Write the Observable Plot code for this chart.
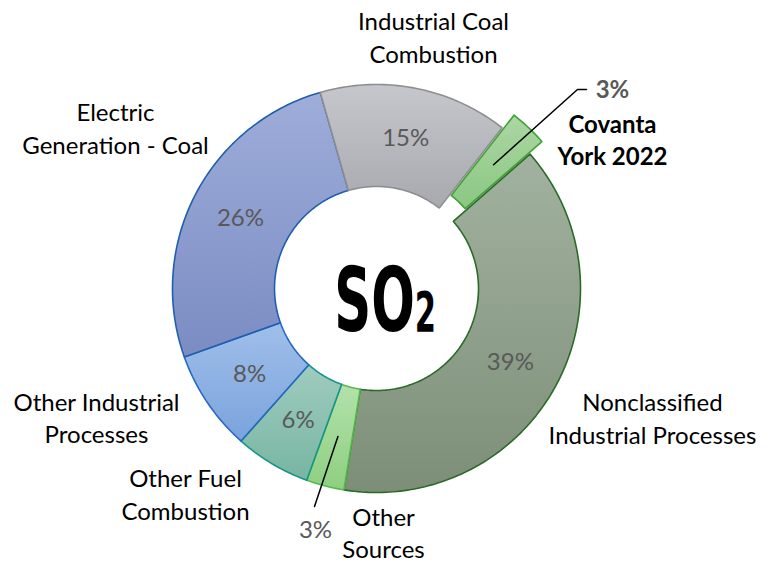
<!DOCTYPE html>
<html>
<head>
<meta charset="utf-8">
<script src="https://cdn.jsdelivr.net/npm/d3@7"></script>
<script src="https://cdn.jsdelivr.net/npm/@observablehq/plot@0.6"></script>
<style>
html, body { margin: 0; padding: 0; background: #fff; }
#chart svg { display: block; }
</style>
</head>
<body>
<div id="chart"></div>
<script>
// ---------- data ----------
const categories = [
  "Covanta York 2022",
  "Nonclassified Industrial Processes",
  "Other Sources",
  "Other Fuel Combustion",
  "Other Industrial Processes",
  "Electric Generation - Coal",
  "Industrial Coal Combustion"
];
const values = [3, 39, 3, 6, 8, 26, 15];
const labelLines = [
  ["Covanta", "York 2022"],
  ["Nonclassified", "Industrial Processes"],
  ["Other", "Sources"],
  ["Other Fuel", "Combustion"],
  ["Other Industrial", "Processes"],
  ["Electric", "Generation - Coal"],
  ["Industrial Coal", "Combustion"]
];

// ---------- layout / style ----------
const W = 773, H = 563, CX = 376, CY = 288, R = 204, INNER = 0.5, START_DEG = 38;
const explode = [0.085, 0, 0, 0, 0, 0, 0];
const gradTop    = ["#abd7a3", "#a2b2a0", "#b3e1ab", "#9fccbe", "#a0bfea", "#9eadd9", "#c6c7cc"];
const gradBottom = ["#8bc782", "#7d8e78", "#8ecf80", "#78b5a3", "#7aa3dc", "#7b8cc3", "#a8a9af"];
const strokes    = ["#42a037", "#2b6a27", "#52b94a", "#13958a", "#2468c2", "#1f5fae", "#8e8e90"];
// label centers in pixels [x, y of first line, y of second line, bold]
const labelPos = [
  [612, 125, 157, true],
  [652, 403, 436, false],
  [383, 518, 550, false],
  [185, 479, 512, false],
  [96, 403, 435, false],
  [115, 113, 146, false],
  [433, 22, 55, false]
];
const outsidePct = { 0: [612, 90, true], 2: [315, 530, false] };
const leaderEnds = { 0: [[577, 89], [586, 89]], 2: [[314, 506]] };

const toX = (px) => (px - CX) / R;
const toY = (py) => (py - CY) / R;
const polar = (r, a) => [r * Math.sin(a), -r * Math.cos(a)];

// ---------- geometry from data ----------
const total = d3.sum(values);
let acc = START_DEG * Math.PI / 180;
const slices = values.map((v, i) => {
  const a0 = acc, a1 = acc + (v / total) * 2 * Math.PI;
  acc = a1;
  const mid = (a0 + a1) / 2;
  const [ox, oy] = polar(explode[i], mid);
  const n = Math.max(6, Math.ceil((a1 - a0) * 180 / Math.PI));
  const pts = [];
  for (let k = 0; k <= n; k++) {
    const a = a0 + (a1 - a0) * k / n;
    const [x, y] = polar(1, a);
    pts.push({ x: x + ox, y: y + oy });
  }
  for (let k = n; k >= 0; k--) {
    const a = a0 + (a1 - a0) * k / n;
    const [x, y] = polar(INNER, a);
    pts.push({ x: x + ox, y: y + oy });
  }
  pts.push(pts[0]);
  const [cx, cy] = polar(0.75, mid);
  return { i, name: categories[i], value: v, pts, cx: cx + ox, cy: cy + oy };
});

const insidePct = slices.filter(s => !(s.i in outsidePct)).map(s => ({ x: s.cx, y: s.cy, t: `${s.value}%` }));
const outPct = Object.entries(outsidePct).map(([i, p]) => ({ x: toX(p[0]), y: toY(p[1]), t: `${values[+i]}%`, bold: p[2] }));
const labelData = [];
labelLines.forEach((lines, i) => {
  const p = labelPos[i];
  lines.forEach((t, j) => labelData.push({ x: toX(p[0]), y: toY(p[1 + j]), t, bold: p[3] }));
});
const leaders = Object.entries(leaderEnds).map(([i, ends]) => {
  const s = slices[+i];
  return [{ x: s.cx, y: s.cy }, ...ends.map(([px, py]) => ({ x: toX(px), y: toY(py) }))];
});

const marks = [];
slices.forEach(s => {
  marks.push(Plot.line(s.pts, {
    x: "x", y: "y", curve: "linear",
    fill: `url(#grad${s.i})`, stroke: strokes[s.i], strokeWidth: 1.6, strokeLinejoin: "miter"
  }));
});
leaders.forEach(l => marks.push(Plot.line(l, { x: "x", y: "y", stroke: "#000", strokeWidth: 1.5, curve: "linear" })));
marks.push(Plot.text(insidePct, { x: "x", y: "y", text: "t", fill: "#595959", fontSize: 24, fontFamily: "Lato" }));
marks.push(Plot.text(outPct.filter(d => d.bold), { x: "x", y: "y", text: "t", fill: "#595959", fontSize: 24, fontWeight: "bold", fontFamily: "Lato" }));
marks.push(Plot.text(outPct.filter(d => !d.bold), { x: "x", y: "y", text: "t", fill: "#595959", fontSize: 24, fontFamily: "Lato" }));
marks.push(Plot.text(labelData.filter(d => !d.bold), { x: "x", y: "y", text: "t", fill: "#000", fontSize: 24, fontFamily: "Lato" }));
marks.push(Plot.text(labelData.filter(d => d.bold), { x: "x", y: "y", text: "t", fill: "#000", fontSize: 24, fontWeight: "bold", fontFamily: "Lato" }));
// center title
const centerText = [{ x: toX(374), y: toY(330), t: "SO" }];
const centerSub = [{ x: toX(425), y: toY(330), t: "2" }];
marks.push(Plot.text(centerText, { x: "x", y: "y", text: "t", fill: "#000", fontSize: 62, fontWeight: "bold", fontFamily: "DejaVu Sans Condensed", letterSpacing: -2 }));
marks.push(Plot.text(centerSub, { x: "x", y: "y", text: "t", fill: "#000", fontSize: 40, fontWeight: "bold", fontFamily: "DejaVu Sans Condensed" }));

const plot = Plot.plot({
  width: W, height: H,
  margin: 0, marginTop: 0, marginRight: 0, marginBottom: 0, marginLeft: 0,
  x: { domain: [toX(0), toX(W)], range: [0, W], axis: null },
  y: { domain: [toY(0), toY(H)], range: [0, H], axis: null },
  style: { background: "#fff", overflow: "visible" },
  marks
});

// gradient defs
const svg = d3.select(plot);
const defs = svg.insert("defs", ":first-child");
values.forEach((v, i) => {
  const g = defs.append("linearGradient").attr("id", `grad${i}`).attr("x1", 0).attr("y1", 0).attr("x2", 0).attr("y2", 1);
  g.append("stop").attr("offset", "0%").attr("stop-color", gradTop[i]);
  g.append("stop").attr("offset", "100%").attr("stop-color", gradBottom[i]);
});

// condense/stretch center title glyphs (baseline placed at the data y)
function stretch(content, sx, sy) {
  svg.selectAll("text").filter(function () { return this.textContent === content; }).each(function () {
    const t = d3.select(this);
    let tr = t.attr("transform");
    if (!tr) {
      tr = `translate(${t.attr("x") || 0},${t.attr("y") || 0})`;
    }
    t.attr("x", null).attr("y", null).attr("dy", null);
    t.selectAll("tspan").attr("x", null).attr("y", null).attr("dy", null);
    t.attr("transform", `${tr} scale(${sx},${sy})`);
  });
}
stretch("SO", 0.92, 1.44);
stretch("2", 0.85, 1.38);

document.getElementById("chart").appendChild(plot);
</script>
</body>
</html>
